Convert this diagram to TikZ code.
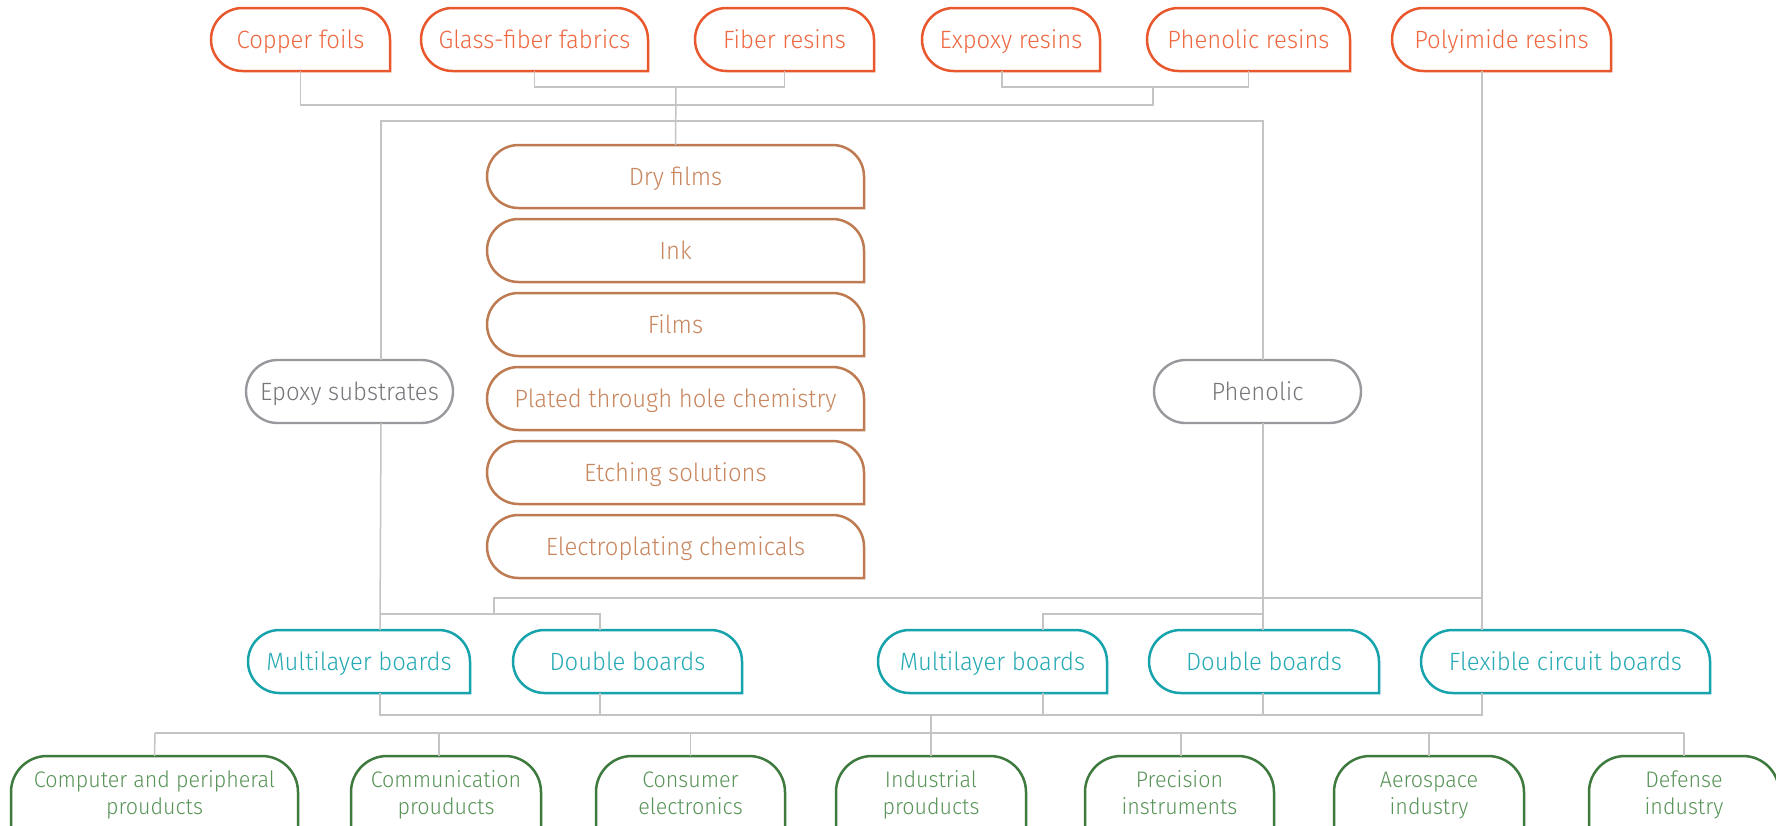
\documentclass[tikz,border=0pt]{standalone}
\usepackage{fontspec}
\IfFontExistsTF{Fira Sans Light}{\setmainfont{Fira Sans Light}[FakeStretch=0.955]}{\setmainfont{Fira Sans}[FakeStretch=0.955]}
\usetikzlibrary{calc}

\definecolor{cTop}{RGB}{233,87,45}
\definecolor{cTopT}{RGB}{238,105,65}
\definecolor{cChem}{RGB}{190,122,80}
\definecolor{cChemT}{RGB}{200,134,94}
\definecolor{cSub}{RGB}{152,152,157}
\definecolor{cSubT}{RGB}{118,118,123}
\definecolor{cBoard}{RGB}{22,163,172}
\definecolor{cBoardT}{RGB}{38,170,180}
\definecolor{cUse}{RGB}{62,122,62}
\definecolor{cUseT}{RGB}{88,148,88}
\definecolor{cWire}{RGB}{196,196,196}

\newcommand\tabframe[2]{%
  \draw[#1] (#2.south east) -- (#2.south west) -- (#2.north west)
            -- (#2.north east) -- (#2.south east);}
\newcommand\useframe[1]{%
  \draw[useline] ($(#1.south east)+(0,50)$) -- ($(#1.south west)+(0,50)$)
     -- (#1.north west) -- (#1.north east) -- ($(#1.south east)+(0,50)$);}

\begin{document}
\begin{tikzpicture}[x=0.5pt,y=-0.5pt,
  lbl/.style={inner sep=0pt, outer sep=0pt, minimum height=31.5pt,
              text height=8.6pt, text depth=0pt,
              font=\fontsize{12.5}{15}\selectfont},
  bw/.style={minimum width=#1*0.5pt},
  topn/.style={lbl, text=cTopT},
  chem/.style={lbl, text=cChemT},
  sub/.style={lbl, text=cSubT, draw=cSub, line width=1.2pt, rounded corners=15.75pt},
  board/.style={lbl, text=cBoardT},
  usen/.style={inner sep=0pt, outer sep=0pt, minimum height=37pt, align=center,
               text height=21pt, text depth=0pt,
               text=cUseT, font=\fontsize{11.25}{13.25}\selectfont},
  tabline/.style={draw=#1, line width=1.25pt, rounded corners=15.75pt, line cap=rect},
  useline/.style={draw=cUse, line width=1.25pt, rounded corners=18pt},
  wire/.style={draw=cWire, line width=0.75pt}
]
\clip (0,0) rectangle (1776,825);
\fill[white] (0,0) rectangle (1776,825);

% raw materials
\node[topn,bw=179] (cu)  at (300.5,39.5)  {Copper foils};
\node[topn,bw=227] (gf)  at (534.5,39.5)  {Glass-fiber fabrics};
\node[topn,bw=179] (fr)  at (784.5,39.5)  {Fiber resins};
\node[topn,bw=178] (ex)  at (1011,39.5)   {Expoxy resins};
\node[topn,bw=203] (phr) at (1248.5,39.5) {Phenolic resins};
\node[topn,bw=219] (pi)  at (1501.5,39.5) {Polyimide resins};

% process chemicals
\node[chem,bw=377] (c1) at (675.5,176.5) {Dry films};
\node[chem,bw=377] (c2) at (675.5,250.5) {Ink};
\node[chem,bw=377] (c3) at (675.5,324.5) {Films};
\node[chem,bw=377] (c4) at (675.5,398.5) {Plated through hole chemistry};
\node[chem,bw=377] (c5) at (675.5,472.5) {Etching solutions};
\node[chem,bw=377] (c6) at (675.5,546.5) {Electroplating chemicals};

% substrates
\node[sub,bw=207] (eps) at (349.5,391.5)  {Epoxy substrates};
\node[sub,bw=207] (phn) at (1257.5,391.5) {Phenolic};

% boards
\node[board,bw=222] (ml1) at (359,661.5)    {Multilayer boards};
\node[board,bw=229] (db1) at (627.5,661.5)  {Double boards};
\node[board,bw=229] (ml2) at (992.5,661.5)  {Multilayer boards};
\node[board,bw=230] (db2) at (1264,661.5)   {Double boards};
\node[board,bw=289] (fx)  at (1565.5,661.5) {Flexible circuit boards};

% applications
\node[usen,bw=287] (u1) at (154.5,793)  {Computer and peripheral\\prouducts};
\node[usen,bw=190] (u2) at (446,793)    {Communication\\prouducts};
\node[usen,bw=189] (u3) at (690.5,793)  {Consumer\\electronics};
\node[usen,bw=190] (u4) at (931,793)    {Industrial\\prouducts};
\node[usen,bw=189] (u5) at (1179.5,793) {Precision\\instruments};
\node[usen,bw=190] (u6) at (1429,793)   {Aerospace\\industry};
\node[usen,bw=190] (u7) at (1684,793)   {Defense\\industry};

% outlines
\foreach \n in {cu,gf,fr,ex,phr,pi} {\tabframe{tabline=cTop}{\n}}
\foreach \n in {c1,c2,c3,c4,c5,c6} {\tabframe{tabline=cChem}{\n}}
\foreach \n in {ml1,db1,ml2,db2,fx} {\tabframe{tabline=cBoard}{\n}}
\foreach \n in {u1,u2,u3,u4,u5,u6,u7} {\useframe{\n}}

% junction points
\coordinate (j1) at (676,87);
\coordinate (j2) at (1153,105);
\coordinate (k1) at (381,121);
\coordinate (k2) at (1263,121);
\coordinate (m1) at (494,598);
\coordinate (m2) at (1482,598);
\coordinate (n1) at (380,614);
\coordinate (n2) at (600,614);
\coordinate (n3) at (1043,614);
\coordinate (b1) at (380,715);
\coordinate (b2) at (1482,715);
\coordinate (s1) at (155,733);
\coordinate (s2) at (1684,733);

% materials to chemicals and substrates
\draw[wire] (gf.south) -- (gf.south |- j1) -- (fr.south |- j1) -- (fr.south);
\draw[wire] (j1) -- (c1.north);
\draw[wire] ($(ex.south)+(-9,0)$) -- ($(ex.south |- j1)+(-9,0)$) -- (phr.south |- j1) -- (phr.south);
\draw[wire] (cu.south) |- (j2) -- (j2 |- j1);
\draw[wire] (k1 |- eps.north) -- (k1) -- (k2) -- (k2 |- phn.north);

% substrates to boards
\draw[wire] (k1 |- eps.south) -- (n1 |- ml1.north);
\draw[wire] (n1) -- (n2) -- (n2 |- db1.north);
\draw[wire] (m1 |- n1) -- (m1) -- (m2);
\draw[wire] (m2 |- pi.south) -- (m2 |- fx.north);
\draw[wire] (k2 |- phn.south) -- (k2 |- db2.north);
\draw[wire] (n3 |- ml2.north) -- (n3) -- (k2 |- n3);

% boards to applications
\draw[wire] (b1 |- ml1.south) -- (b1) -- (b2) -- (b2 |- fx.south);
\draw[wire] (n2 |- db1.south) -- (n2 |- b1);
\draw[wire] (n3 |- ml2.south) -- (n3 |- b1);
\draw[wire] (k2 |- db2.south) -- (k2 |- b1);
\draw[wire] (u4.north |- b1) -- (u4.north);
\draw[wire] (s1) -- (s2);
\draw[wire] (s1) -- (u1.north);
\draw[wire] ($(u2.north |- s1)+(-7,0)$) -- ($(u2.north)+(-7,0)$);
\draw[wire] (u3.north |- s1) -- (u3.north);
\draw[wire] ($(u5.north |- s1)+(1.5,0)$) -- ($(u5.north)+(1.5,0)$);
\draw[wire] (u6.north |- s1) -- (u6.north);
\draw[wire] (s2) -- (u7.north);
\end{tikzpicture}
\end{document}
